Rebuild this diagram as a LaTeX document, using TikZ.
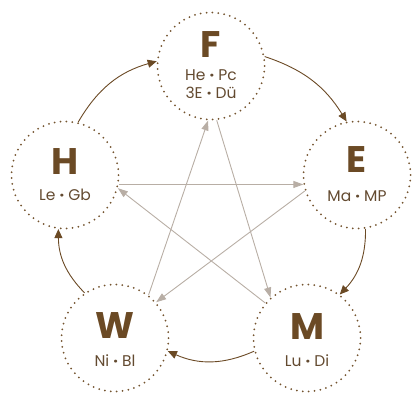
\documentclass[tikz,border=0pt]{standalone}
\usepackage{fontspec}
\setmainfont{Poppins}
\usetikzlibrary{arrows.meta}
\definecolor{ringc}{HTML}{74542F}
\definecolor{darkb}{HTML}{6B4A25}
\definecolor{subc}{HTML}{634A30}
\definecolor{lightc}{HTML}{B8AEA5}
\newcommand{\sdot}{{\bfseries ·}}
\begin{document}
\begin{tikzpicture}[x=1pt,y=1pt,
  ring/.style={circle, minimum size=107pt, inner sep=0pt, draw=ringc, line width=2pt, dash pattern=on 0pt off 5.9pt, line cap=round},
  big/.style={text=darkb, font=\fontsize{37}{40}\selectfont\bfseries, inner sep=0pt},
  sub/.style={text=subc, font=\fontsize{15.5}{18}\selectfont, inner sep=0pt, align=center},
  outer/.style={draw=darkb, line width=0.9pt, -{Triangle[length=9pt,width=8pt]}},
  inner/.style={draw=lightc, line width=0.9pt, -{Triangle[length=10pt,width=7pt]}}]
\useasboundingbox (0,0) rectangle (412,392);
% rings
\node[ring] (F) at (211,326) {};
\node[ring] (E) at (357,217) {};
\node[ring] (H) at (65,217) {};
\node[ring] (W) at (115,54) {};
\node[ring] (M) at (307,54) {};
% labels
\node[big] (Fl) at (211,347.5) {F};
\node[sub] (Fs) at (211,308) {He \sdot{} Pc\\3E \sdot{} Dü};
\node[big] (El) at (357,232) {E};
\node[sub] (Es) at (357,196) {Ma \sdot{} MP};
\node[big] (Hl) at (65,230) {H};
\node[sub] (Hs) at (65,197) {Le \sdot{} Gb};
\node[big] (Wl) at (115,66) {W};
\node[sub] (Ws) at (115,31) {Ni \sdot{} Bl};
\node[big] (Ml) at (307,65) {M};
\node[sub] (Ms) at (307,31) {Lu \sdot{} Di};
% inner star
\draw[inner] (H.-10) -- (E.190);
\draw[inner] (E.197) -- (W.41);
\draw[inner] (M.140) -- (H.-14);
\draw[inner] (F.-84) -- (M.132);
\draw[inner] (W.52) -- (F.-93);
% outer cycle
\draw[outer] (H.76) to[bend left=22] (F.175);
\draw[outer] (F.10) to[bend left=20] (E.101);
\draw[outer] (E.-81) to[bend left=22] (M.53);
\draw[outer] (M.194) to[bend left=24] (W.-14);
\draw[outer] (W.124) to[bend left=22] (H.263);
\end{tikzpicture}
\end{document}
